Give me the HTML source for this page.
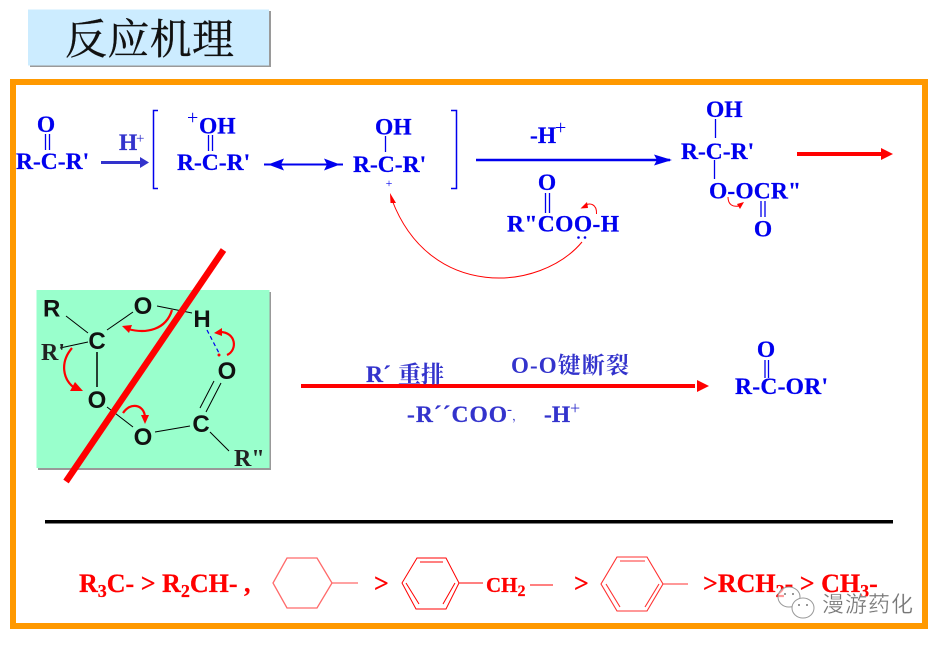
<!DOCTYPE html>
<html><head><meta charset="utf-8">
<style>
html,body{margin:0;padding:0;background:#fff;width:943px;height:645px;overflow:hidden}
svg{display:block}
.s{font-family:"Liberation Serif","Noto Serif CJK SC",serif;font-weight:bold;font-size:23.5px;fill:#0000ee;stroke:#0000ee;stroke-width:.25}
.v{fill:#3333cc;stroke:#3333cc}
.r{fill:#ff0000;stroke:#ff0000;font-size:26px}
.g{font-family:"Liberation Sans",sans-serif;font-weight:bold;font-size:24px;fill:#111}
.gs{font-family:"Liberation Serif",serif;font-weight:bold;font-size:24px;fill:#222}
</style></head>
<body>
<svg width="943" height="645" viewBox="0 0 943 645" xmlns="http://www.w3.org/2000/svg">
<rect width="943" height="645" fill="#fff"/>
<!-- title -->
<rect x="30" y="11" width="241" height="56" fill="#9a9a9a"/>
<rect x="28" y="9.500" width="241" height="56" fill="#ccecff"/>
<text x="65" y="54" font-family="'Noto Serif CJK SC',serif" font-size="42" fill="#111" stroke="#111" stroke-width=".3" textLength="169">反应机理</text>
<!-- frame -->
<rect x="13" y="82" width="912" height="544" fill="#fff" stroke="#ff9900" stroke-width="6"/>

<!-- top row -->
<text class="s" x="46" y="132" text-anchor="middle">O</text>
<g stroke="#0000ee" stroke-width="1.300" fill="none"><path d="M45.500 134V150M49.500 134V150"/></g>
<text class="s" x="16" y="169">R-C-R'</text>
<text class="s v" x="119" y="150">H</text>
<text x="136" y="143" font-family="Liberation Serif,serif" font-size="15" fill="#3333cc">+</text>
<path d="M101 162.500H142" stroke="#3333cc" stroke-width="3"/>
<polygon points="140,157 149,162.500 140,168" fill="#3333cc"/>
<path d="M158 110.500H153.500V188.500H158" fill="none" stroke="#0000ee" stroke-width="1.500"/>
<path d="M451 110.500H456.500V188.500H451" fill="none" stroke="#0000ee" stroke-width="1.500"/>
<text x="187" y="124" font-family="Liberation Serif,serif" font-size="20" fill="#0000ee">+</text>
<text class="s" x="199" y="133.500">OH</text>
<path d="M208.500 135V151M212.500 135V151" stroke="#0000ee" stroke-width="1.300"/>
<text class="s" x="177" y="170">R-C-R'</text>
<path d="M264 164.500H343" stroke="#0000ee" stroke-width="2"/>
<polygon points="268,164.500 284,158.500 281,164.500 284,170.500" fill="#0000ee"/>
<polygon points="340,164.500 324,158.500 327,164.500 324,170.500" fill="#0000ee"/>
<text class="s" x="375" y="134.500">OH</text>
<path d="M385.500 136V152" stroke="#0000ee" stroke-width="1.300"/>
<text class="s" x="353" y="172">R-C-R'</text>
<text x="389" y="187" text-anchor="middle" font-family="Liberation Serif,serif" font-size="12" fill="#0000ee">+</text>
<path d="M582 242C540 292 430 300 392 200" fill="none" stroke="#ff0000" stroke-width="1"/>
<polygon points="390,193 396,203 390.500,203" fill="#ff0000"/>

<text class="s" x="530" y="143">-H</text>
<text x="555" y="134" font-family="Liberation Serif,serif" font-size="20" fill="#0000ee">+</text>
<path d="M476 160H670" stroke="#0000ee" stroke-width="2.500"/>
<polygon points="672,160 654,154.500 657,160 654,165.500" fill="#0000ee"/>
<text class="s" x="547" y="190" text-anchor="middle">O</text>
<path d="M545.500 193V213M549.500 193V213" stroke="#0000ee" stroke-width="1.300"/>
<text class="s" x="507" y="231.500" textLength="112">R"COO-H</text>
<circle cx="578.500" cy="237.500" r="1.300" fill="#0000ee"/><circle cx="585" cy="237.500" r="1.300" fill="#0000ee"/>
<path d="M596.500 214C597 204 590 202 584 206" fill="none" stroke="#ff0000" stroke-width="1"/>
<polygon points="580.500,208.500 587,202 588,208" fill="#ff0000"/>

<text class="s" x="706" y="117">OH</text>
<path d="M715.500 119V138" stroke="#0000ee" stroke-width="1.300"/>
<text class="s" x="681" y="159">R-C-R'</text>
<path d="M714.500 160V179" stroke="#0000ee" stroke-width="1.300"/>
<text class="s" x="709" y="198.500" textLength="92">O-OCR"</text>
<path d="M761 201V217M765 201V217" stroke="#0000ee" stroke-width="1.300"/>
<text class="s" x="763" y="236.500" text-anchor="middle">O</text>
<path d="M728 197C728 205 733 207 739 206" fill="none" stroke="#ff0000" stroke-width="1"/>
<polygon points="744,202 737,204 740,209" fill="#ff0000"/>
<path d="M797 154H884" stroke="#ff0000" stroke-width="4"/>
<polygon points="881,148 893,154 881,160" fill="#ff0000"/>

<!-- green box -->
<rect x="38" y="292" width="233" height="178" fill="#999"/>
<rect x="36.500" y="290" width="233" height="178" fill="#99ffcc"/>
<g stroke="#000" stroke-width="1" fill="none">
<path d="M66 316L88 333M107 330L133 312M157 306L192 313M60 348L88 342M107 407L133 427M155 432L190 426M200 408L214 381M206 412L221 383M210 432L229 451"/>
<path d="M97 352V387" stroke-width="1.500"/>
</g>
<path d="M207 330L220 355" stroke="#0000ee" stroke-width="1.200" stroke-dasharray="4 3" fill="none"/>
<text class="g" x="43" y="316.500">R</text>
<text class="g" x="143" y="314" text-anchor="middle">O</text>
<text class="g" x="202" y="327" text-anchor="middle">H</text>
<text class="g" x="97" y="349" text-anchor="middle">C</text>
<text class="gs" x="41" y="360">R'</text>
<text class="g" x="97" y="408" text-anchor="middle">O</text>
<text class="g" x="143" y="445" text-anchor="middle">O</text>
<text class="g" x="201" y="432" text-anchor="middle">C</text>
<text class="g" x="227" y="379" text-anchor="middle">O</text>
<text class="gs" x="234" y="466">R"</text>
<g fill="none" stroke="#ff0000" stroke-width="2.200">
<path d="M172 310C166 330 146 334 128 329"/>
<path d="M72 348C60 362 62 380 76 389"/>
<path d="M123 413C130 402 144 404 145 417"/>
<path d="M227 355C238 350 236 332 220 332"/>
</g>
<polygon points="122,326 132,325 129,333" fill="#ff0000"/>
<polygon points="83,391 70,391 75,382" fill="#ff0000"/>
<polygon points="145,424 141,415 149,415" fill="#ff0000"/>
<polygon points="214,333 222,328 222,336" fill="#ff0000"/>
<circle cx="219" cy="355" r="1.500" fill="#ff0000"/>
<path d="M223.500 250L66 481.500" stroke="#ff0000" stroke-width="6.500"/>

<!-- middle -->
<path d="M301 386H695" stroke="#ff0000" stroke-width="4"/>
<polygon points="697,380 709,386 697,392" fill="#ff0000"/>
<text class="s v" x="366" y="382" font-size="23">R´</text>
<text x="398" y="382" font-family="'Noto Serif CJK SC',serif" font-size="23" font-weight="bold" fill="#3333cc">重排</text>
<text x="511" y="373" font-family="'Liberation Serif','Noto Serif CJK SC',serif" font-size="23" font-weight="bold" fill="#3333cc" textLength="118">O-O键断裂</text>
<text class="s v" x="407" y="422" textLength="100">-R´´COO</text>
<text x="507" y="414" font-family="Liberation Serif,serif" font-size="15" fill="#3333cc">-</text>
<text x="512" y="420" font-family="'Noto Serif CJK SC',serif" font-size="12" fill="#3333cc">，</text>
<text class="s v" x="544" y="422">-H</text>
<text x="570" y="414" font-family="Liberation Serif,serif" font-size="18" fill="#3333cc">+</text>
<text class="s" x="766" y="357" text-anchor="middle">O</text>
<path d="M765 360V378M768.500 360V378" stroke="#0000ee" stroke-width="1.300"/>
<text class="s" x="735" y="394" textLength="93">R-C-OR'</text>

<!-- rule -->
<rect x="45" y="520" width="848" height="3.500" fill="#000"/>

<!-- bottom -->
<text class="s r" x="79" y="592">R<tspan font-size="18" dy="5">3</tspan><tspan dy="-5">C- &gt; R</tspan><tspan font-size="18" dy="5">2</tspan><tspan dy="-5">CH- ,</tspan></text>
<g fill="none" stroke="#ff6a6a" stroke-width="1.300">
<path d="M287 558H317L332 583L317 608H287L273 583ZM332 583H358"/>
</g>
<text class="s r" x="374" y="592">&gt;</text>
<g fill="none" stroke="#ff0000" stroke-width="1">
<path d="M417 558H446L459 583L446 609H416L402 583ZM459 583H483"/>
<path d="M420 562H443M455 583L443 604M406 583L419 604"/>
<path d="M530 585H553"/>
</g>
<text class="s r" x="486" y="592" style="font-size:21px">CH<tspan font-size="16" dy="4">2</tspan></text>
<text class="s r" x="574" y="592">&gt;</text>
<g fill="none" stroke="#ff3030" stroke-width="1.100">
<path d="M617 557H647L663 584L647 611H617L601 584ZM663 584H688"/>
<path d="M620 561H645M659 584L645 607M606 584L620 607"/>
</g>
<text class="s r" x="703" y="592">&gt;RCH<tspan font-size="18" dy="5">2</tspan><tspan dy="-5">- &gt; CH</tspan><tspan font-size="18" dy="5">3</tspan><tspan dy="-5">-</tspan></text>

<!-- watermark -->
<g fill="#fff" stroke="#999" stroke-width="1">
<ellipse cx="789" cy="597" rx="11" ry="10" fill-opacity=".6"/>
<ellipse cx="803" cy="608" rx="11" ry="10"/>
</g>
<g fill="#777"><circle cx="785" cy="594" r="1"/><circle cx="793" cy="594" r="1"/><circle cx="799" cy="605" r="1"/><circle cx="807" cy="605" r="1"/></g>
<text x="822" y="612" font-family="'Noto Sans CJK SC',sans-serif" font-size="22" fill="#777" stroke="#fff" stroke-width=".3" textLength="91">漫游药化</text>
</svg>
</body></html>
